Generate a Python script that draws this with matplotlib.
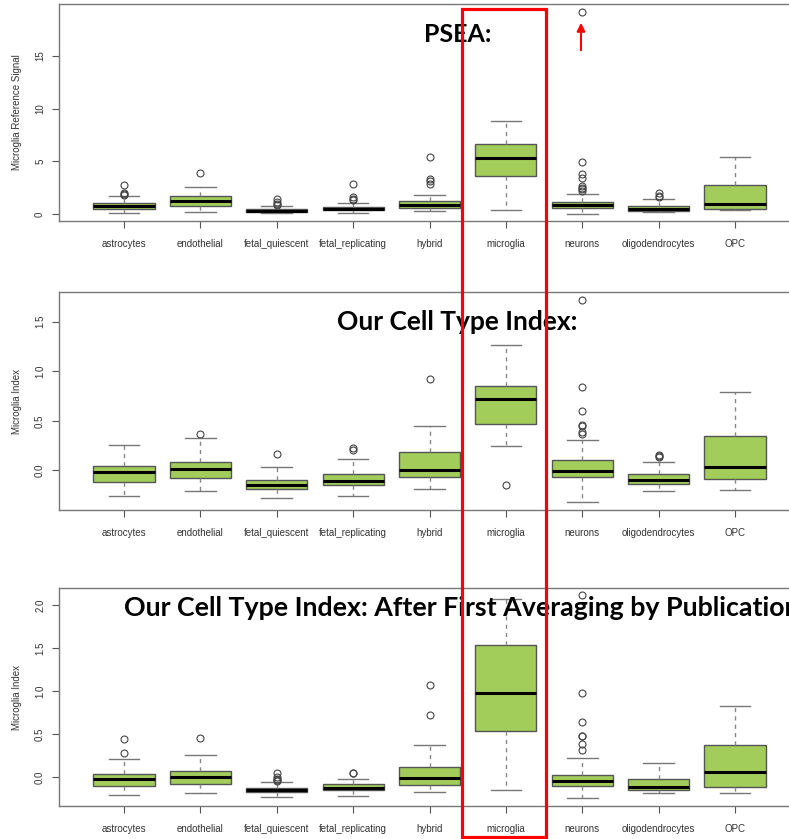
import matplotlib.pyplot as plt
import matplotlib.patches as patches

cells = ['astrocytes', 'endothelial', 'fetal_quiescent', 'fetal_replicating', 'hybrid',
         'microglia', 'neurons', 'oligodendrocytes', 'OPC']

# Panel 1: PSEA reference signal
psea_med = [0.76, 1.27, 0.32, 0.51, 0.85, 5.32, 0.85, 0.47, 0.98]
psea_q1 = [0.50, 0.79, 0.19, 0.38, 0.54, 3.61, 0.54, 0.32, 0.44]
psea_q3 = [1.04, 1.71, 0.47, 0.70, 1.23, 6.61, 1.14, 0.79, 2.72]
psea_lo = [0.13, 0.19, 0.06, 0.13, 0.32, 0.38, 0.03, 0.19, 0.35]
psea_hi = [1.74, 2.53, 0.79, 1.04, 1.80, 8.86, 1.87, 1.39, 5.38]
psea_out = [[2.72, 1.96, 1.87, 1.80], [3.90], [1.39, 1.10, 0.98, 0.89],
            [2.88, 1.61, 1.46, 1.33], [5.41, 3.35, 3.10, 2.85], [],
            [19.18, 4.94, 3.80, 3.39, 2.63, 2.47, 2.34, 2.20], [1.99, 1.74, 1.65], []]

# Panel 2: cell type index
cti_med = [-0.020, 0.013, -0.148, -0.107, 0.007, 0.718, -0.003, -0.097, 0.034]
cti_q1 = [-0.114, -0.080, -0.188, -0.148, -0.070, 0.470, -0.070, -0.138, -0.087]
cti_q3 = [0.047, 0.084, -0.100, -0.037, 0.185, 0.856, 0.100, -0.040, 0.349]
cti_lo = [-0.255, -0.210, -0.275, -0.260, -0.185, 0.242, -0.315, -0.205, -0.200]
cti_hi = [0.255, 0.326, 0.037, 0.110, 0.450, 1.270, 0.305, 0.087, 0.795]
cti_out = [[], [0.372], [0.161], [0.228, 0.205], [0.926], [-0.148],
           [1.715, 0.839, 0.604, 0.453, 0.446, 0.383, 0.372], [0.158, 0.148, 0.138], []]

# Panel 3: cell type index after averaging by publication
avg_med = [-0.031, -0.004, -0.152, -0.125, -0.012, 0.973, -0.054, -0.117, 0.054]
avg_q1 = [-0.105, -0.082, -0.175, -0.156, -0.097, 0.533, -0.105, -0.152, -0.120]
avg_q3 = [0.031, 0.070, -0.125, -0.086, 0.109, 1.537, 0.027, -0.023, 0.370]
avg_lo = [-0.214, -0.187, -0.230, -0.218, -0.175, -0.156, -0.249, -0.187, -0.183]
avg_hi = [0.210, 0.253, -0.058, -0.020, 0.374, 2.070, 0.214, 0.160, 0.825]
avg_out = [[0.444, 0.272], [0.455], [0.050, 0.000, -0.020, -0.040, -0.050], [0.050, 0.040],
           [1.074, 0.724], [], [2.113, 0.977, 0.642, 0.479, 0.471, 0.385, 0.311], [], []]

panels = [
    ('Microglia Reference Signal', psea_med, psea_q1, psea_q3, psea_lo, psea_hi, psea_out,
     (-0.66, 19.94), [0, 5, 10, 15], ['0', '5', '10', '15'], 'PSEA:', (424, 35), 18),
    ('Microglia Index', cti_med, cti_q1, cti_q3, cti_lo, cti_hi, cti_out,
     (-0.40, 1.80), [0, 0.5, 1.0, 1.5], ['0.0', '0.5', '1.0', '1.5'], 'Our Cell Type Index:',
     (337, 322), 19),
    ('Microglia Index', avg_med, avg_q1, avg_q3, avg_lo, avg_hi, avg_out,
     (-0.34, 2.20), [0, 0.5, 1.0, 1.5, 2.0], ['0.0', '0.5', '1.0', '1.5', '2.0'],
     'Our Cell Type Index: After First Averaging by Publication', (124, 608), 19.3),
]

W, H = 789, 839
fig = plt.figure(figsize=(W / 100, H / 100), dpi=100)
plt.rcParams['font.family'] = ['Liberation Sans', 'DejaVu Sans']

tops = [4, 292, 588]
bottoms = [221, 510, 806]
left_px, right_px = 59, 800
fill = '#A2CD5A'
edge = '#555555'

for i, (ylab, med, q1, q3, lo, hi, out, ylim, yt, ytl, title, tpos, tsize) in enumerate(panels):
    ax = fig.add_axes([left_px / W, 1 - bottoms[i] / H, (right_px - left_px) / W,
                       (bottoms[i] - tops[i]) / H])
    stats = []
    for j in range(len(cells)):
        stats.append(dict(med=med[j], q1=q1[j], q3=q3[j], whislo=lo[j], whishi=hi[j],
                          fliers=out[j], label=cells[j]))
    ax.bxp(stats, positions=range(1, 10), widths=0.8, patch_artist=True,
           boxprops=dict(facecolor=fill, edgecolor=edge, linewidth=1.0),
           medianprops=dict(color='black', linewidth=2.2),
           whiskerprops=dict(color='#888888', linestyle=(0, (3, 3)), linewidth=1.0),
           capprops=dict(color='#777777', linewidth=1.0),
           flierprops=dict(marker='o', markerfacecolor='none', markeredgecolor='#444444',
                           markersize=5, markeredgewidth=0.8))
    ax.set_xlim(0.149, 9.851)
    ax.set_ylim(*ylim)
    ax.set_yticks(yt)
    ax.set_yticklabels(ytl, rotation=90, va='center', fontsize=7, color='#333333')
    ax.set_xticks(range(1, 10))
    ax.set_xticklabels(cells, fontsize=7, color='#333333')
    ax.tick_params(axis='both', length=5, color='#555555', width=0.8)
    ax.tick_params(axis='x', pad=8)
    ax.tick_params(axis='y', pad=5)
    for s in ax.spines.values():
        s.set_color('#777777')
        s.set_linewidth(1.0)
    ax.set_ylabel(ylab, fontsize=7, color='#333333')
    ax.yaxis.set_label_coords(-(59 - 22) / (right_px - left_px), 0.5)
    fig.text(tpos[0] / W, 1 - tpos[1] / H, title, fontsize=tsize, fontweight='bold',
             family=['Lato', 'DejaVu Sans'], va='center', ha='left', color='black')

# red highlight box around microglia and arrow to the clipped outlier
rect = patches.Rectangle((462 / W, 1 - 837 / H), (546 - 462) / W, (837 - 9) / H,
                         transform=fig.transFigure, fill=False, edgecolor='#FF0000',
                         linewidth=2.3, zorder=10)
fig.patches.append(rect)
fig.add_artist(patches.FancyArrowPatch((581 / W, 1 - 53 / H), (581 / W, 1 - 20 / H),
                                       transform=fig.transFigure, arrowstyle='-|>',
                                       mutation_scale=12, color='#FF0000', linewidth=1.5))

fig.savefig('out.png', dpi=100)
